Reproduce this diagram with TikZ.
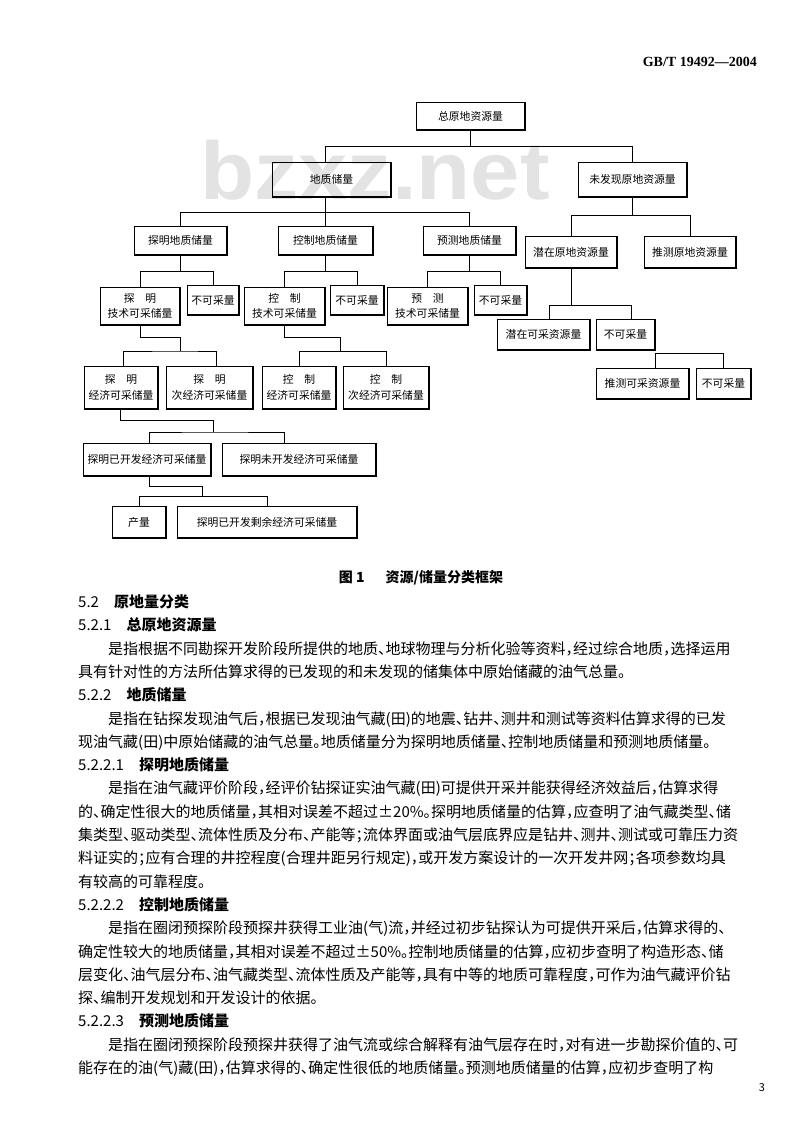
\documentclass[tikz,border=0pt]{standalone}
\usepackage{fontspec}
\setmainfont{Noto Sans CJK SC}
\newfontfamily\cjk{Noto Sans CJK SC}
\newfontfamily\cjkt[RawFeature=+halt]{Noto Sans CJK SC}
\newfontfamily\wmfont{Liberation Sans}
\newfontfamily\hdrfont{Liberation Serif}
\XeTeXlinebreaklocale "zh"
\XeTeXlinebreakskip=0pt plus 4pt minus 0.8pt
\hbadness=10000
\begin{document}
\begin{tikzpicture}[x=1pt,y=-1pt,
  bx/.style={draw, line width=0.9pt, inner sep=0pt, align=center,
    font=\cjk\fontsize{10.8}{15.6}\selectfont,
    path picture={\draw[line width=2.4pt] (path picture bounding box.south west) -- (path picture bounding box.south east) -- (path picture bounding box.north east);}},
  ln/.style={line width=0.9pt},
  tx/.style={anchor=base west, inner sep=0pt, font=\cjkt\fontsize{15}{20}\selectfont},
  fl/.style={tx, text width=#1, align=justify},
  hd/.style={tx}
]
\useasboundingbox (0,0) rectangle (800,1137);
\fill[white] (0,0) rectangle (800,1137);

% header and watermark
\node[anchor=base east, inner sep=0pt, font=\hdrfont\bfseries\fontsize{14}{16}\selectfont] (hdr) at (757,67) {GB/T 19492—2004};
\node[anchor=base west, inner sep=0pt, text=black!11, font=\wmfont\bfseries\fontsize{82}{90}\selectfont] (wm) at (200,199) {\scalebox{1.08}[1]{bzxz.net}};

% boxes
\node[bx, minimum width=109pt, minimum height=28pt] (top) at (470.5,116) {总原地资源量};
\node[bx, minimum width=119pt, minimum height=35pt] (dz) at (331.5,179.5) {地质储量};
\node[bx, minimum width=109pt, minimum height=35pt] (wf) at (632.5,179.5) {未发现原地资源量};
\node[bx, minimum width=93pt, minimum height=29pt] (tm) at (180.5,240.5) {探明地质储量};
\node[bx, minimum width=95pt, minimum height=29pt] (kz) at (325.5,240.5) {控制地质储量};
\node[bx, minimum width=93pt, minimum height=29pt] (yc) at (469.5,240.5) {预测地质储量};
\node[bx, minimum width=92pt, minimum height=32pt] (qz) at (571,252) {潜在原地资源量};
\node[bx, minimum width=92pt, minimum height=32pt] (tc) at (690,252) {推测原地资源量};
\node[bx, minimum width=80pt, minimum height=38pt] (tmj) at (140,306) {探\hspace{1em}明\\技术可采储量};
\node[bx, minimum width=52pt, minimum height=30pt] (n1) at (213,300) {不可采量};
\node[bx, minimum width=81pt, minimum height=38pt] (kzj) at (284.5,306) {控\hspace{1em}制\\技术可采储量};
\node[bx, minimum width=54pt, minimum height=30pt] (n2) at (357,300) {不可采量};
\node[bx, minimum width=81pt, minimum height=38pt] (ycj) at (427.5,306) {预\hspace{1em}测\\技术可采储量};
\node[bx, minimum width=53pt, minimum height=30pt] (n3) at (500.5,300) {不可采量};
\node[bx, minimum width=93pt, minimum height=31pt] (qzk) at (543.5,334.5) {潜在可采资源量};
\node[bx, minimum width=59pt, minimum height=31pt] (n4) at (625.5,334.5) {不可采量};
\node[bx, minimum width=93pt, minimum height=31pt] (tck) at (642.5,383.5) {推测可采资源量};
\node[bx, minimum width=55pt, minimum height=31pt] (n5) at (723.5,383.5) {不可采量};
\node[bx, minimum width=74pt, minimum height=43pt] (tmjj) at (121,387.5) {探\hspace{1em}明\\经济可采储量};
\node[bx, minimum width=87pt, minimum height=43pt] (tmcj) at (209.5,387.5) {探\hspace{1em}明\\次经济可采储量};
\node[bx, minimum width=74pt, minimum height=43pt] (kzjj) at (299,387.5) {控\hspace{1em}制\\经济可采储量};
\node[bx, minimum width=86pt, minimum height=43pt] (kzcj) at (386,387.5) {控\hspace{1em}制\\次经济可采储量};
\node[bx, minimum width=128pt, minimum height=33pt] (ykf) at (147,459.5) {探明已开发经济可采储量};
\node[bx, minimum width=154pt, minimum height=33pt] (wkf) at (299,459.5) {探明未开发经济可采储量};
\node[bx, minimum width=54pt, minimum height=32pt] (cl) at (139,522) {产量};
\node[bx, minimum width=180pt, minimum height=32pt] (sy) at (267,522) {探明已开发剩余经济可采储量};

% connectors
\coordinate (b0) at (0,146);
\coordinate (dzt) at ([xshift=-6.5pt]dz.north);
\coordinate (dzb) at ([xshift=-6.5pt]dz.south);
\draw[ln] (top.south) -- (top.south |- b0);
\draw[ln] (dzt) |- (wf.north |- b0) -- (wf.north);

\coordinate (b1) at (0,212.7);
\draw[ln] (dzb) -- (dzb |- b1);
\draw[ln] (tm.north) |- (yc.north |- b1) -- (yc.north);
\draw[ln] (kz.north) -- (kz.north |- b1);

\coordinate (b2) at (0,215);
\draw[ln] (wf.south) -- (wf.south |- b2);
\draw[ln] (qz.north) |- (tc.north |- b2) -- (tc.north);

\coordinate (b3) at (0,271.7);
\draw[ln] (tm.south) -- (tm.south |- b3);
\draw[ln] (tmj.north) |- (n1.north |- b3) -- (n1.north);
\draw[ln] (kz.south) -- (kz.south |- b3);
\draw[ln] (kzj.north) |- (n2.north |- b3) -- (n2.north);
\draw[ln] (yc.south) -- (yc.south |- b3);
\draw[ln] (ycj.north) |- (n3.north |- b3) -- (n3.north);

\coordinate (b4) at (0,305);
\coordinate (qzkt) at ([xshift=6pt]qzk.north);
\coordinate (n4t) at ([xshift=5.5pt]n4.north);
\draw[ln] (qz.south) -- (qz.south |- b4);
\draw[ln] (qzkt) |- (n4t |- b4) -- (n4t);

\coordinate (b5) at (0,353);
\coordinate (tckt) at ([xshift=12.5pt]tck.north);
\draw[ln] (tckt) |- (n5.north |- b5) -- (n5.north);

\coordinate (j1) at (180,337);
\coordinate (j2) at (180,351);
\coordinate (tmjjt) at ([xshift=2pt]tmjj.north);
\coordinate (tmcjt) at ([xshift=6.5pt]tmcj.north);
\draw[ln] (tmj.south) |- (j1) -- (j2);
\draw[ln] (tmjjt) |- (j2) -| (tmcjt);

\coordinate (j3) at (340,337);
\coordinate (j4) at (340,351.7);
\draw[ln] (kzj.south) |- (j3) -- (j4);
\draw[ln] (kzjj.north) |- (j4) -| (kzcj.north);

\coordinate (j5) at (213,420);
\coordinate (j6) at (213,432);
\coordinate (tmjjb) at ([xshift=-1pt]tmjj.south);
\coordinate (ykft) at ([xshift=2pt]ykf.north);
\coordinate (wkft) at ([xshift=-14.7pt]wkf.north);
\draw[ln] (tmjjb) |- (j5) -- (j6);
\draw[ln] (ykft) |- (j6) -| (wkft);

\coordinate (j7) at (202,486.7);
\coordinate (j8) at (202,496.7);
\coordinate (ykfb) at ([xshift=2pt]ykf.south);
\draw[ln] (ykfb) |- (j7) -- (j8);
\draw[ln] (cl.north) |- (j8) -| (sy.north);

% caption
\node[anchor=base, inner sep=0pt, font=\cjk\bfseries\fontsize{14}{16}\selectfont] (cap) at (421,582) {图 1\hspace{1.5em}资源/储量分类框架};

% text
\node[hd] (h1) at (78,607.5) {5.2\quad{\bfseries 原地量分类}};
\node[hd] (h2) at (78,630.8) {5.2.1\quad{\bfseries 总原地资源量}};
\node[fl=644pt] (l1) at (108,654.1) {\noindent\parfillskip=0pt 是指根据不同勘探开发阶段所提供的地质、地球物理与分析化验等资料，经过综合地质，选择运用};
\node[tx] (l2) at (78,677.4) {具有针对性的方法所估算求得的已发现的和未发现的储集体中原始储藏的油气总量。};
\node[hd] (h3) at (78,700.7) {5.2.2\quad{\bfseries 地质储量}};
\node[fl=644pt] (l3) at (108,724) {\noindent\parfillskip=0pt 是指在钻探发现油气后，根据已发现油气藏(田)的地震、钻井、测井和测试等资料估算求得的已发};
\node[fl=674pt] (l4) at (78,747.3) {\noindent\parfillskip=0pt 现油气藏(田)中原始储藏的油气总量。地质储量分为探明地质储量、控制地质储量和预测地质储量。};
\node[hd] (h4) at (78,770.6) {5.2.2.1\quad{\bfseries 探明地质储量}};
\node[fl=644pt] (l5) at (108,793.9) {\noindent\parfillskip=0pt 是指在油气藏评价阶段，经评价钻探证实油气藏(田)可提供开采并能获得经济效益后，估算求得};
\node[fl=674pt] (l6) at (78,817.2) {\noindent\parfillskip=0pt 的、确定性很大的地质储量，其相对误差不超过±20\%。探明地质储量的估算，应查明了油气藏类型、储};
\node[fl=674pt] (l7) at (78,840.5) {\noindent\parfillskip=0pt 集类型、驱动类型、流体性质及分布、产能等；流体界面或油气层底界应是钻井、测井、测试或可靠压力资};
\node[fl=674pt] (l8) at (78,863.8) {\noindent\parfillskip=0pt 料证实的；应有合理的井控程度(合理井距另行规定)，或开发方案设计的一次开发井网；各项参数均具};
\node[tx] (l9) at (78,887.1) {有较高的可靠程度。};
\node[hd] (h5) at (78,910.4) {5.2.2.2\quad{\bfseries 控制地质储量}};
\node[fl=644pt] (l10) at (108,933.7) {\noindent\parfillskip=0pt 是指在圈闭预探阶段预探井获得工业油(气)流，并经过初步钻探认为可提供开采后，估算求得的、};
\node[fl=674pt] (l11) at (78,957) {\noindent\parfillskip=0pt 确定性较大的地质储量，其相对误差不超过±50\%。控制地质储量的估算，应初步查明了构造形态、储};
\node[fl=674pt] (l12) at (78,980.3) {\noindent\parfillskip=0pt 层变化、油气层分布、油气藏类型、流体性质及产能等，具有中等的地质可靠程度，可作为油气藏评价钻};
\node[tx] (l13) at (78,1003.6) {探、编制开发规划和开发设计的依据。};
\node[hd] (h6) at (78,1026.9) {5.2.2.3\quad{\bfseries 预测地质储量}};
\node[fl=644pt] (l14) at (108,1050.2) {\noindent\parfillskip=0pt 是指在圈闭预探阶段预探井获得了油气流或综合解释有油气层存在时，对有进一步勘探价值的、可};
\node[fl=674pt] (l15) at (78,1073.5) {\noindent\parfillskip=0pt 能存在的油(气)藏(田)，估算求得的、确定性很低的地质储量。预测地质储量的估算，应初步查明了构};
\node[anchor=base, inner sep=0pt, font=\cjk\fontsize{11}{13}\selectfont] (pg) at (762,1091) {3};
\end{tikzpicture}
\end{document}
